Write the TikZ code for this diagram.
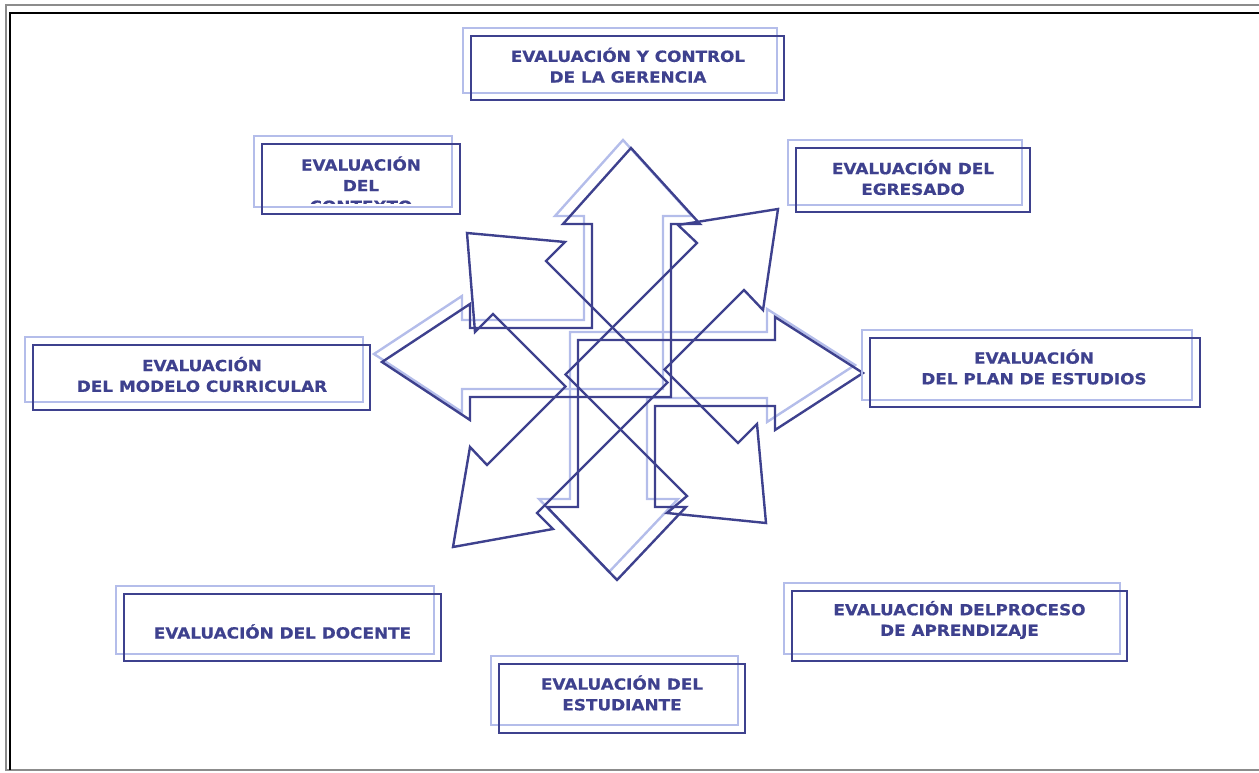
\documentclass[tikz,border=0pt]{standalone}
\usepackage{fontspec}
\newfontfamily\cajafont{DejaVu Sans Bold}[FakeStretch=1.1, FakeBold=0.6]
\definecolor{azulosc}{RGB}{62,65,142}
\definecolor{azulcla}{RGB}{180,189,234}
\definecolor{marco}{RGB}{140,140,140}
% flecha en L: izquierda + arriba
\newcommand{\flechaIzqArr}{(631,148) -- (700,224) -- (671,224) -- (671,397) -- (470,397) -- (470,420) -- (382,362) -- (470,304) -- (470,328) -- (592,328) -- (592,224) -- (563,224) -- cycle}
% flecha en L: derecha + abajo
\newcommand{\flechaDerAba}{(863,373) -- (775,430) -- (775,406) -- (655,406) -- (655,507) -- (686,507) -- (617,580) -- (547,507) -- (578,507) -- (578,340) -- (775,340) -- (775,317) -- cycle}
\begin{document}
\begin{tikzpicture}[x=0.75pt,y=-0.75pt,
  dk/.style={draw=azulosc, line width=1.8pt},
  lt/.style={draw=azulcla, line width=1.8pt},
  rotulo/.style={text=azulosc, font=\cajafont\fontsize{11.5}{15.5}\selectfont, align=center, inner sep=0pt}]
\useasboundingbox (0,0) rectangle (1259,773);
% marco
\draw[marco, line width=1.6pt] (1259,5) -- (6,5) -- (6,770) -- (1259,770);
\draw[black, line width=2pt] (1259,13) -- (10,13) -- (10,770);

% flechas rectas con sombra
\draw[lt, shift={(-8,-8)}] \flechaIzqArr;
\draw[lt, shift={(-8,-8)}] \flechaDerAba;
\draw[dk] \flechaIzqArr;
\draw[dk] \flechaDerAba;
% flechas diagonales
\draw[dk] (467,233) -- (565,242) -- (546,261) -- (667.5,382.5) -- (537,513) -- (553,529) -- (453,547) -- (470,447) -- (487,465) -- (565.5,386.5) -- (493,314) -- (475,332) -- cycle;
\draw[dk] (778,209) -- (763,310) -- (744,290) -- (664.5,369.5) -- (738,443) -- (757,424) -- (766,523) -- (667,513) -- (687,496) -- (565.5,374.5) -- (697,243) -- (678,225) -- cycle;

% cuadros
\draw[lt] (463,28) rectangle (777,93);
\draw[dk] (471,36) rectangle (784,100);
\node[rotulo] (gerencia) at (628,65.2) {EVALUACIÓN Y CONTROL\\DE LA GERENCIA};

\draw[lt] (254,136) rectangle (452,207);
\draw[dk] (262,144) rectangle (460,214);
\begin{scope}
\clip (254,136) rectangle (452,204);
\node[rotulo] (contexto) at (361,184.2) {EVALUACIÓN\\DEL\\CONTEXTO};
\end{scope}

\draw[lt] (788,140) rectangle (1022,205);
\draw[dk] (796,148) rectangle (1030,212);
\node[rotulo] (egresado) at (913,177.5) {EVALUACIÓN DEL\\EGRESADO};

\draw[lt] (25,337) rectangle (363,402);
\draw[dk] (33,345) rectangle (370,410);
\node[rotulo] (modelo) at (202,374.5) {EVALUACIÓN\\DEL MODELO CURRICULAR};

\draw[lt] (862,330) rectangle (1192,400);
\draw[dk] (870,338) rectangle (1200,407);
\node[rotulo] (plan) at (1034,367) {EVALUACIÓN\\DEL PLAN DE ESTUDIOS};

\draw[lt] (116,586) rectangle (434,654);
\draw[dk] (124,594) rectangle (441,661);
\node[rotulo] (docente) at (282.5,631.5) {EVALUACIÓN DEL DOCENTE};

\draw[lt] (784,583) rectangle (1120,654);
\draw[dk] (792,591) rectangle (1127,661);
\node[rotulo] (proceso) at (959.5,620) {EVALUACIÓN DELPROCESO\\DE APRENDIZAJE};

\draw[lt] (491,656) rectangle (738,725);
\draw[dk] (499,664) rectangle (745,733);
\node[rotulo] (estudiante) at (622,693) {EVALUACIÓN DEL\\ESTUDIANTE};
\end{tikzpicture}
\end{document}
